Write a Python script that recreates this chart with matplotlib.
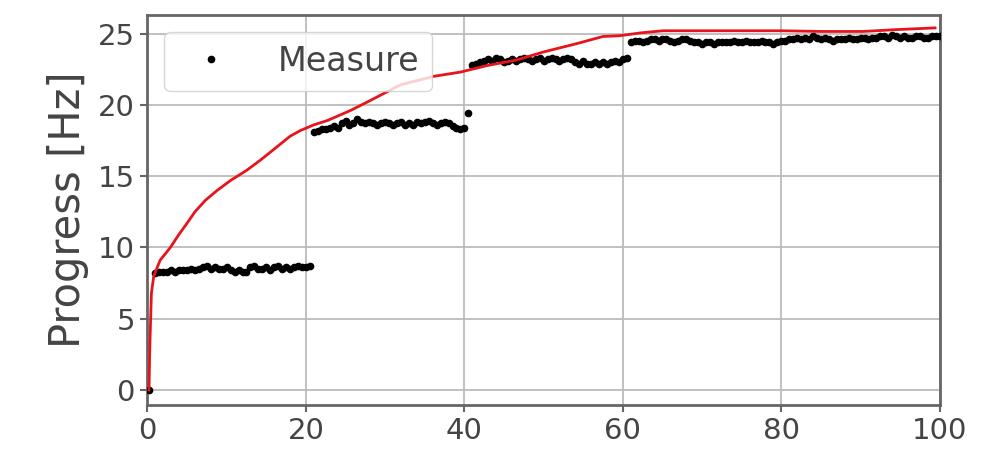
import numpy as np
import matplotlib
matplotlib.use("Agg")
import matplotlib.pyplot as plt

# ---- data ----
x_start = [0.25]
y_start = [0.0]

x_seg1 = np.arange(1.0, 21.0, 0.5)
y_seg1 = [8.2, 8.3, 8.3, 8.3, 8.4, 8.3, 8.4, 8.4, 8.4, 8.5,
          8.4, 8.5, 8.6, 8.7, 8.5, 8.6, 8.5, 8.5, 8.6, 8.4,
          8.3, 8.4, 8.3, 8.3, 8.6, 8.7, 8.5, 8.5, 8.6, 8.4,
          8.6, 8.7, 8.5, 8.6, 8.5, 8.6, 8.7, 8.6, 8.6, 8.7]

x_seg2 = np.arange(21.0, 41.0, 0.5)
y_seg2 = [18.1, 18.2, 18.3, 18.3, 18.4, 18.5, 18.4, 18.7, 18.9, 18.6,
          18.7, 19.0, 18.8, 18.7, 18.8, 18.7, 18.6, 18.7, 18.8, 18.7,
          18.6, 18.7, 18.8, 18.6, 18.7, 18.6, 18.8, 18.7, 18.8, 18.9,
          18.7, 18.6, 18.7, 18.8, 18.7, 18.5, 18.4, 18.3, 18.4, 19.4]

x_seg3 = np.arange(41.0, 61.0, 0.5)
y_seg3 = [22.8, 22.9, 23.0, 23.1, 23.2, 23.1, 23.3, 23.2, 23.0, 23.1,
          23.2, 23.1, 23.2, 23.3, 23.2, 23.1, 23.2, 23.3, 23.1, 23.2,
          23.3, 23.2, 23.1, 23.2, 23.3, 23.2, 23.0, 22.9, 23.1, 22.9,
          22.9, 23.0, 22.9, 23.0, 22.9, 23.0, 23.1, 23.0, 23.2, 23.3]

x_seg4 = np.arange(61.0, 100.5, 0.5)
y_seg4 = [24.4, 24.5, 24.5, 24.4, 24.5, 24.6, 24.6, 24.5, 24.6, 24.6,
          24.5, 24.4, 24.5, 24.6, 24.6, 24.5, 24.4, 24.4, 24.3, 24.4,
          24.4, 24.3, 24.4, 24.4, 24.4, 24.4, 24.5, 24.4, 24.4, 24.5,
          24.4, 24.4, 24.4, 24.5, 24.4, 24.4, 24.3, 24.4, 24.5, 24.5,
          24.6, 24.6, 24.7, 24.6, 24.7, 24.6, 24.8, 24.7, 24.6, 24.7,
          24.6, 24.5, 24.6, 24.6, 24.6, 24.7, 24.6, 24.6, 24.7, 24.7,
          24.6, 24.7, 24.7, 24.8, 24.8, 24.7, 24.9, 24.8, 24.7, 24.8,
          24.7, 24.7, 24.8, 24.8, 24.7, 24.7, 24.8, 24.8, 24.8]

fit_x = [0.2, 0.3, 0.5, 0.8, 1.6, 2.9, 3.9, 5.0, 6.0, 7.3, 8.8, 10.5,
         12.5, 14.2, 16.0, 18.0, 19.3, 21.0, 22.7, 25.6, 28.1, 31.9, 36.1,
         39.5, 42.8, 46.6, 49.9, 54.2, 57.5, 59.6, 62.2, 65.1, 70.0, 75.0,
         80.0, 85.0, 90.3, 94.5, 99.4]
fit_y = [0.0, 3.0, 6.8, 8.0, 9.1, 10.0, 10.85, 11.7, 12.5, 13.3, 14.0, 14.7,
         15.4, 16.1, 16.9, 17.8, 18.2, 18.6, 18.9, 19.6, 20.3, 21.4, 22.0,
         22.3, 22.75, 23.15, 23.7, 24.3, 24.8, 24.85, 25.05, 25.2, 25.2, 25.2,
         25.2, 25.15, 25.15, 25.28, 25.4]

xticks = [0, 20, 40, 60, 80, 100]
yticks = [0, 5, 10, 15, 20, 25]

# ---- plot ----
fig = plt.figure(figsize=(10.03, 4.57), dpi=100)
ax = fig.add_axes([0.147, 0.114, 0.790, 0.853])

mx = np.concatenate([x_start, x_seg1, x_seg2, x_seg3, x_seg4])
my = np.concatenate([y_start, y_seg1, y_seg2, y_seg3, y_seg4])
ax.plot(mx, my, '.', color='black', markersize=9, label='Measure', zorder=3)
ax.plot(fit_x, fit_y, '-', color='#e8141c', linewidth=2.0, zorder=4)

ax.set_xlim(0, 100)
ax.set_ylim(-1.05, 26.3)
ax.set_xticks(xticks)
ax.set_yticks(yticks)

text_color = '#444444'
ax.grid(True, color='#bbbbbb', linewidth=1.3)
ax.set_axisbelow(True)
for s in ax.spines.values():
    s.set_color('#666666')
    s.set_linewidth(2.0)
ax.tick_params(axis='both', labelsize=21, colors=text_color, length=5, width=1.5,
               color='#666666', pad=4)
ax.set_ylabel('Progress [Hz]', fontsize=30, color=text_color, labelpad=6)

leg = ax.legend(loc='upper left', fontsize=24, frameon=True, markerscale=1.0,
                handletextpad=1.0)
leg.get_frame().set_edgecolor('#cccccc')
for t in leg.get_texts():
    t.set_color(text_color)

fig.savefig('out.png', dpi=100)
